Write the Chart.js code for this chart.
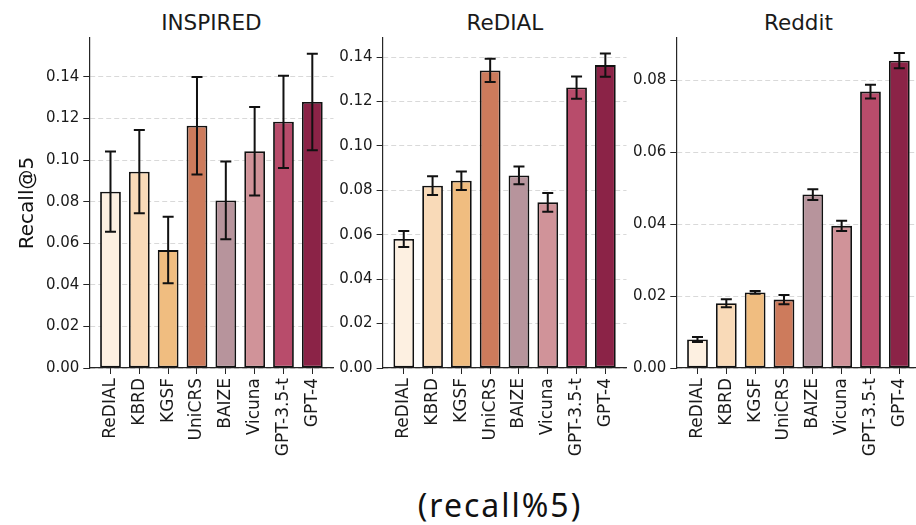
<!DOCTYPE html>
<html>
<head>
<meta charset="utf-8">
<script src="https://cdn.jsdelivr.net/npm/chart.js@4/dist/chart.umd.min.js"></script>
<style>
  html, body { margin: 0; padding: 0; background: #ffffff; overflow: hidden; }
  body { width: 916px; height: 525px; position: relative; }
  canvas { position: absolute; top: 0; }
  .ptitle { position: absolute; top: 9.5px; width: 240px; margin-left: -120px; text-align: center;
            font-family: "DejaVu Sans", sans-serif; font-size: 21.5px; line-height: 26px; color: #1a1a1a; }
  #caption { position: absolute; left: 300px; width: 400px; top: 489px; text-align: center;
             font-family: "Noto Sans", sans-serif; font-size: 32px; line-height: 32px; color: #111;
             letter-spacing: 2px; }
</style>
</head>
<body>
<div class="ptitle" id="t0"></div>
<div class="ptitle" id="t1"></div>
<div class="ptitle" id="t2"></div>
<canvas id="c0" width="340" height="470" style="left:0px"></canvas>
<canvas id="c1" width="290" height="470" style="left:340px"></canvas>
<canvas id="c2" width="300" height="470" style="left:630px"></canvas>
<div id="caption">(recall%5)</div>
<script>
// ---- data ----
const categories = ['ReDIAL', 'KBRD', 'KGSF', 'UniCRS', 'BAIZE', 'Vicuna', 'GPT-3.5-t', 'GPT-4'];
const panelTitles = ['INSPIRED', 'ReDIAL', 'Reddit'];
const yAxisLabel = 'Recall@5';
const captionText = '(recall%5)';

const inspiredMean = [0.0848, 0.0944, 0.0567, 0.1165, 0.0806, 0.1042, 0.1184, 0.1279];
const inspiredErr  = [0.0193, 0.0200, 0.0160, 0.0234, 0.0187, 0.0213, 0.0222, 0.0232];
const redialMean   = [0.0581, 0.0821, 0.0843, 0.1340, 0.0867, 0.0746, 0.1263, 0.1364];
const redialErr    = [0.0036, 0.0042, 0.0042, 0.0052, 0.0040, 0.0042, 0.0050, 0.0052];
const redditMean   = [0.0079, 0.0180, 0.0210, 0.0190, 0.0482, 0.0395, 0.0768, 0.0854];
const redditErr    = [0.0007, 0.0011, 0.0004, 0.0013, 0.0015, 0.0014, 0.0019, 0.0021];

const yTicksInspired = [0, 0.02, 0.04, 0.06, 0.08, 0.10, 0.12, 0.14];
const yTicksRedial   = [0, 0.02, 0.04, 0.06, 0.08, 0.10, 0.12, 0.14];
const yTicksReddit   = [0, 0.02, 0.04, 0.06, 0.08];
const yMaxes = [0.1587, 0.1486, 0.0917];

const barColors = ['#fdf0e1', '#f9dab8', '#f0bd80', '#cd7b5c', '#b7949c', '#d09399', '#b84c6b', '#8b2347'];

// ---- layout (styles / positions) ----
const panels = [
  { id: 'c0', mean: inspiredMean, err: inspiredErr, ticks: yTicksInspired, axisW: 89.3, padR: 6.5, ylabel: true },
  { id: 'c1', mean: redialMean,   err: redialErr,   ticks: yTicksRedial,   axisW: 42.6, padR: 2.8, ylabel: false },
  { id: 'c2', mean: redditMean,   err: redditErr,   ticks: yTicksReddit,   axisW: 46.3, padR: 9.5, ylabel: false },
];
const titleCenters = [211.4, 504.9, 798.4];

panelTitles.forEach((t, i) => {
  const el = document.getElementById('t' + i);
  el.textContent = t;
  el.style.left = titleCenters[i] + 'px';
});
document.getElementById('caption').textContent = captionText;

const errorBarPlugin = {
  id: 'errorBars',
  afterDatasetsDraw(chart) {
    const ctx = chart.ctx;
    const ys = chart.scales.y;
    const meta = chart.getDatasetMeta(0);
    const ds = chart.data.datasets[0];
    ctx.save();
    ctx.strokeStyle = '#111';
    ctx.lineWidth = 2;
    meta.data.forEach((el, i) => {
      const v = ds.data[i].y;
      const e = ds.errors[i];
      const x = el.x;
      const yTop = ys.getPixelForValue(v + e);
      const yBot = ys.getPixelForValue(v - e);
      const cap = 5.5;
      ctx.beginPath();
      ctx.moveTo(x, yTop); ctx.lineTo(x, yBot);
      ctx.moveTo(x - cap, yTop); ctx.lineTo(x + cap, yTop);
      ctx.moveTo(x - cap, yBot); ctx.lineTo(x + cap, yBot);
      ctx.stroke();
    });
    ctx.restore();
  }
};

const yTickFont = { family: 'DejaVu Sans', size: 15 };
const xTickFont = { family: 'DejaVu Sans', size: 17 };
const axisColor = '#262626';

panels.forEach((p, pi) => {
  const points = categories.map((c, i) => ({ x: i, y: p.mean[i] }));
  new Chart(document.getElementById(p.id), {
    type: 'bar',
    data: {
      datasets: [{
        data: points,
        errors: p.err,
        backgroundColor: barColors,
        borderColor: '#111',
        borderWidth: 1.8,
        borderSkipped: false,
        barPercentage: 0.72,
        categoryPercentage: 1.0,
      }]
    },
    options: {
      responsive: false,
      animation: false,
      devicePixelRatio: 1,
      layout: { padding: { left: 0, right: p.padR, top: 38, bottom: 0 } },
      plugins: { legend: { display: false }, tooltip: { enabled: false }, title: { display: false } },
      scales: {
        x: {
          type: 'linear',
          min: -0.735,
          max: 7.735,
          offset: false,
          afterFit(scale) { scale.height = 102; },
          afterBuildTicks(scale) { scale.ticks = categories.map((c, i) => ({ value: i })); },
          grid: { display: true, drawOnChartArea: false, drawTicks: true, tickLength: 6, tickColor: axisColor, tickWidth: 1, offset: false },
          border: { display: true, color: axisColor, width: 1.2 },
          ticks: {
            autoSkip: false,
            minRotation: 90,
            maxRotation: 90,
            padding: 4,
            color: '#1a1a1a',
            font: xTickFont,
            callback: (v) => categories[Math.round(v)]
          }
        },
        y: {
          min: 0,
          max: yMaxes[pi],
          afterFit(scale) { scale.width = p.axisW; },
          afterBuildTicks(scale) { scale.ticks = p.ticks.map(v => ({ value: v })); },
          grid: { display: true, drawOnChartArea: true, drawTicks: true, tickLength: 6,
                  color: 'rgba(0,0,0,0.15)', lineWidth: 1, tickColor: axisColor, tickWidth: 1, tickBorderDash: [] },
          border: { display: true, color: axisColor, width: 1.2, dash: [5, 3] },
          ticks: {
            padding: 4,
            color: '#1a1a1a',
            font: yTickFont,
            callback: (v) => Number(v).toFixed(2)
          },
          title: {
            display: p.ylabel,
            text: yAxisLabel,
            color: '#111',
            font: { family: 'DejaVu Sans', size: 20 },
            padding: { top: 16, bottom: 0 }
          }
        }
      }
    },
    plugins: [errorBarPlugin]
  });
});
</script>
</body>
</html>
